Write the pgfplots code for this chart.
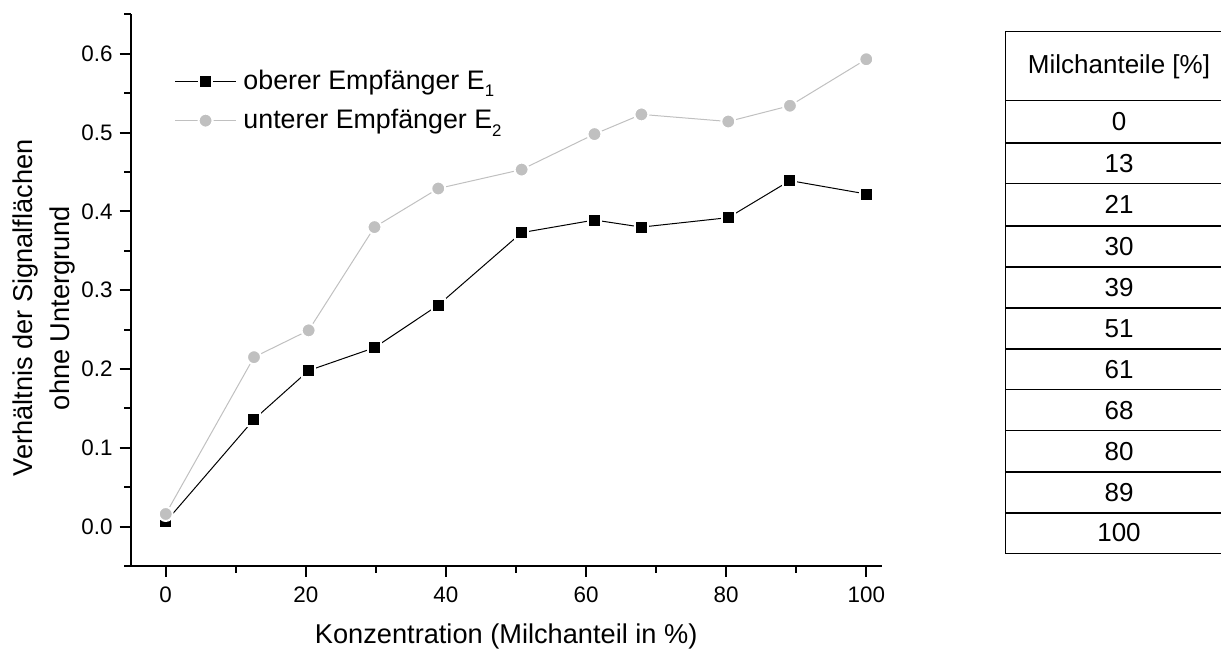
\documentclass[border=0pt]{standalone}
\usepackage{fontspec}
\setmainfont{Liberation Sans}
\usepackage{pgfplots}
\pgfplotsset{compat=1.18}
\definecolor{silv}{RGB}{192,192,192}
\newcommand{\sub}[1]{\raisebox{-3.7pt}{\fontsize{8.4}{9}\selectfont #1}}
\begin{document}
\begin{tikzpicture}
\useasboundingbox (0pt,0pt) rectangle (610.5pt,-325.5pt);
\begin{axis}[
  at={(65.35pt,-283pt)}, anchor=south west,
  scale only axis, width=375.5pt, height=275.85pt,
  xmin=-5, xmax=102.2, ymin=-0.05, ymax=0.65,
  axis lines=left, axis line style={-, line width=1pt},
  tick align=outside, major tick length=5.5pt, minor tick length=3.3pt,
  every tick/.style={black, line width=1pt},
  xtick={0,20,40,60,80,100}, minor xtick={10,30,50,70,90},
  ytick={0,0.1,0.2,0.3,0.4,0.5,0.6},
  minor ytick={-0.05,0.05,0.15,0.25,0.35,0.45,0.55,0.65},
  /pgf/number format/assume math mode=true,
  yticklabel style={/pgf/number format/.cd, fixed, fixed zerofill, precision=1},
  xticklabel style={yshift=-1.5pt},
  ticklabel style={font=\fontsize{11.2}{13}\selectfont},
  xlabel={Konzentration (Milchanteil in \%)},
  ylabel={Verhältnis der Signalflächen\\ohne Untergrund},
  label style={font=\fontsize{13.6}{18.5}\selectfont},
  xlabel style={at={(axis description cs:0.5,-0.1396)}, anchor=base},
  ylabel style={at={(axis description cs:-0.1154,0.4677)}, anchor=center, align=center},
  legend style={at={(axis description cs:0.058,0.907)}, anchor=north west,
    draw=none, fill=none, font=\fontsize{13.4}{15}\selectfont,
    row sep=4.5pt, inner sep=0pt},
  legend cell align=left,
  legend image code/.code={\draw[#1, mark repeat=2, mark phase=2] plot coordinates {(0pt,0pt) (15.2pt,0pt) (30.4pt,0pt)};},
  clip=false,
]
\addplot[black, line width=0.5pt, mark=square*, mark size=3.25pt,
  mark options={fill=black, draw=white, line width=1pt}] coordinates {
  (0,0.006) (12.6,0.136) (20.4,0.198) (29.8,0.227) (38.9,0.281) (50.8,0.373)
  (61.2,0.389) (67.9,0.380) (80.3,0.392) (89.1,0.439) (100,0.422)};
\addlegendentry{\hspace{1.5pt}oberer Empfänger E\sub{1}}
\addplot[silv, line width=0.5pt, mark=*, mark size=3.5pt,
  mark options={fill=silv, draw=white, line width=1pt}] coordinates {
  (0,0.016) (12.6,0.215) (20.4,0.249) (29.8,0.380) (38.9,0.429) (50.8,0.453)
  (61.2,0.498) (67.9,0.523) (80.3,0.514) (89.1,0.534) (100,0.593)};
\addlegendentry{\hspace{1.5pt}unterer Empfänger E\sub{2}}
\end{axis}
\begin{scope}[x=0.5pt, y=-0.5pt]
  \draw[line width=0.5pt] (1005,31.7) -- (1221,31.7);
  \draw[line width=0.5pt] (1005,31.7) -- (1005,553.3);
  \draw[line width=0.5pt] (1005,101) -- (1221,101);
  \foreach \yy/\w in {142.7/1, 184/0.5, 225.7/1, 266.7/1, 308.3/1, 349/1, 390/0.5, 430.7/0.5, 472.3/1, 512.7/1, 553.3/0.5}
    \draw[line width=\w pt] (1005,\yy) -- (1221,\yy);
  \node[font=\fontsize{13}{15}\selectfont] at (1119,66.3) {Milchanteile [\%]};
  \foreach \v/\yc in {0/121.8, 13/163.3, 21/204.8, 30/246.2, 39/287.5, 51/328.6, 61/369.5, 68/410.3, 80/451.5, 89/492.5, 100/533}
    \node[font=\fontsize{13}{15}\selectfont] at (1119,\yc) {\v};
\end{scope}
\end{tikzpicture}
\end{document}
